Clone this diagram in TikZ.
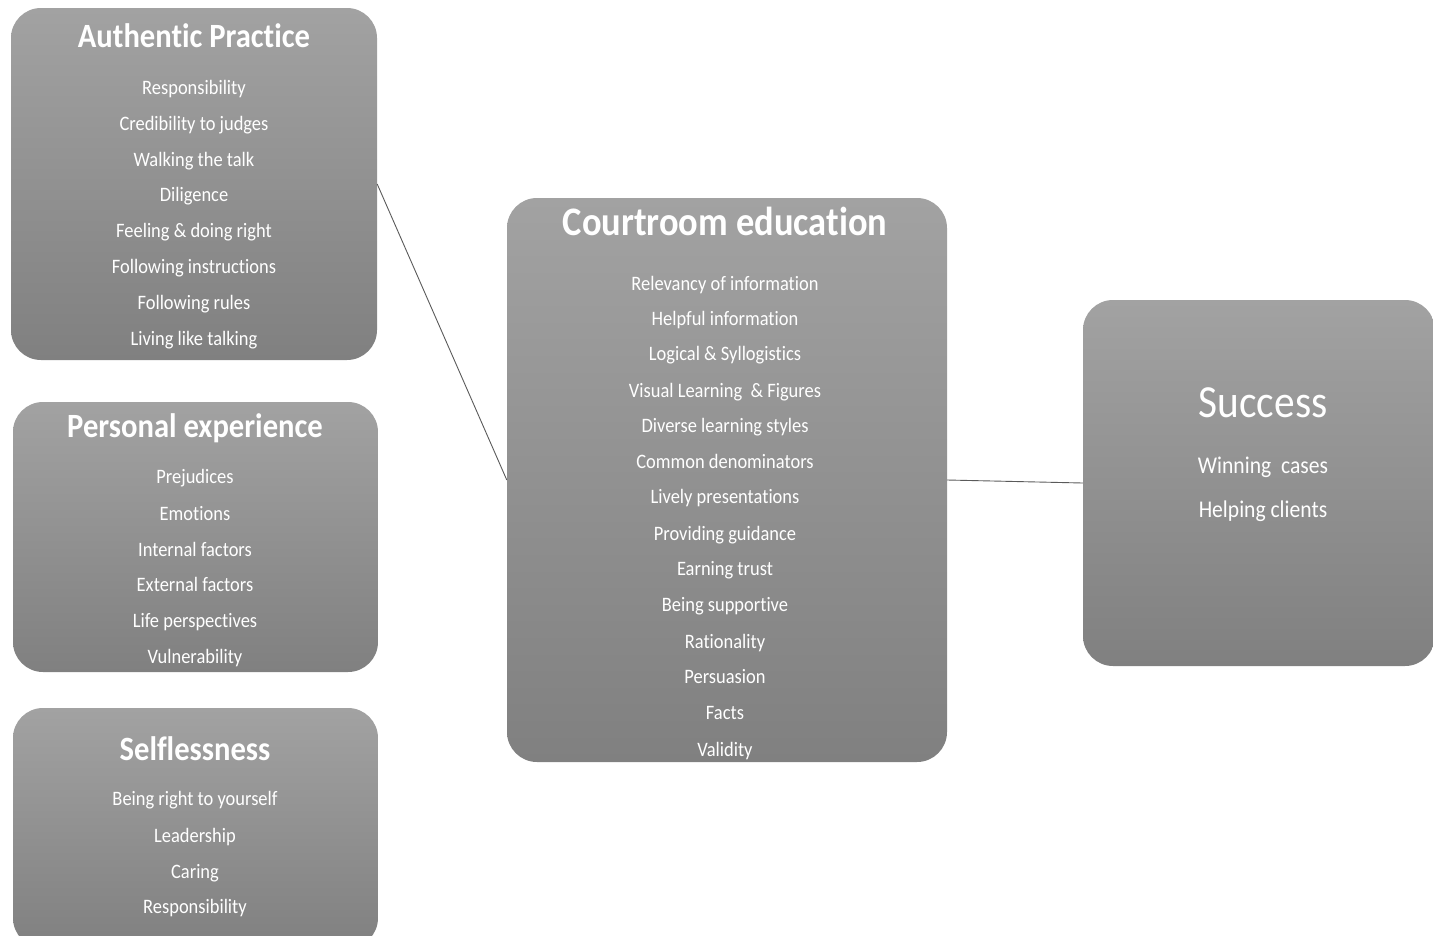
\documentclass[tikz,border=0pt]{standalone}
\usepackage{fontspec}
\setmainfont{Carlito}[FakeStretch=0.9, Ligatures=NoCommon]
\definecolor{boxtop}{RGB}{162,162,162}
\definecolor{boxbot}{RGB}{128,128,128}
\definecolor{linec}{RGB}{90,90,90}
\tikzset{
  box/.style={rectangle, rounded corners=30pt, top color=boxtop, bottom color=boxbot, draw=none, inner sep=0pt},
  ttl/.style={anchor=base, text=white, font=\fontsize{34}{34}\selectfont\bfseries, inner sep=0pt},
  itm/.style={anchor=base, text=white, font=\fontsize{20.5}{20.5}\selectfont, inner sep=0pt},
  conn/.style={draw=linec, line width=0.9pt}
}
\begin{document}
\begin{tikzpicture}[x=1pt,y=-1pt]
\useasboundingbox (0,0) rectangle (1433,935);
\clip (0,0) rectangle (1433,935);
% boxes
\node[box, minimum width=366pt, minimum height=352pt] (ap) at (194,184) {};
\node[box, minimum width=365pt, minimum height=270pt] (pe) at (195.5,537) {};
\node[box, minimum width=365pt, minimum height=240pt] (sl) at (195.5,828) {};
\node[box, minimum width=440pt, minimum height=564pt] (ce) at (727,480) {};
\node[box, minimum width=352pt, minimum height=366pt] (su) at (1259,483) {};
% connectors
\draw[conn] (ap.east) -- (ce.west);
\draw[conn] (ce.east) -- (su.west);
% Authentic Practice
\node[ttl] (apt) at (194,47) {Authentic Practice};
\foreach \t/\y [count=\i] in {Responsibility/94, Credibility to judges/130, Walking the talk/166, Diligence/201, Feeling \& doing right/237, Following instructions/273, Following rules/309, Living like talking/345}
  \node[itm] (ap\i) at (194,\y) {\t};
% Personal experience
\node[ttl] (pet) at (195,437) {Personal experience};
\foreach \t/\y [count=\i] in {Prejudices/483, Emotions/520, Internal factors/556, External factors/591, Life perspectives/627, Vulnerability/663}
  \node[itm] (pe\i) at (195,\y) {\t};
% Selflessness
\node[ttl] (slt) at (195,760) {Selflessness};
\foreach \t/\y [count=\i] in {Being right to yourself/805, Leadership/842, Caring/878, Responsibility/913}
  \node[itm] (sl\i) at (195,\y) {\t};
% Courtroom education
\node[ttl, font=\fontsize{40.5}{40.5}\selectfont\bfseries] (cet) at (725,235) {Courtroom education};
\foreach \t/\y [count=\i] in {Relevancy of information/290, Helpful information/325, Logical \& Syllogistics/360, Visual Learning\ \ \& Figures/397, Diverse learning styles/432, Common denominators/468, Lively presentations/503, Providing guidance/540, Earning trust/575, Being supportive/611, Rationality/648, Persuasion/683, Facts/719, Validity/756}
  \node[itm] (ce\i) at (725,\y) {\t};
% Success
\node[itm, font=\fontsize{46}{46}\selectfont] (sut) at (1263,417) {Success};
\node[itm, font=\fontsize{24}{24}\selectfont] (su1) at (1263,473) {Winning\ \ cases};
\node[itm, font=\fontsize{24}{24}\selectfont] (su2) at (1263,517) {Helping clients};
\end{tikzpicture}
\end{document}
